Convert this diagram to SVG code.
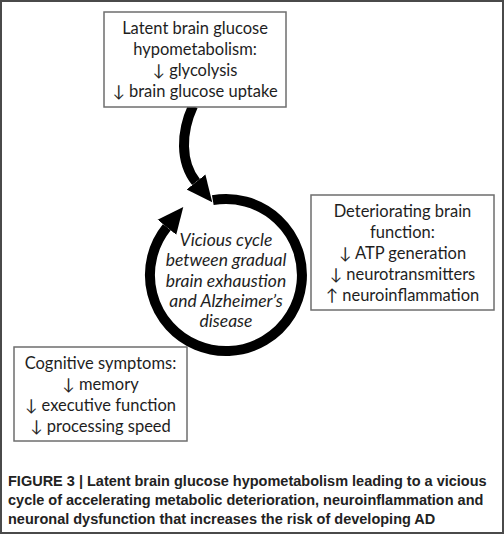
<svg xmlns="http://www.w3.org/2000/svg" width="504" height="535" viewBox="0 0 504 535">
<style>
.box{fill:#fff;stroke:#6e6e6e;stroke-width:1.5}
.t{font-family:Lato,"Liberation Sans",sans-serif;font-size:16.5px;fill:#1e1e1e;text-anchor:middle}
.c{font-family:Lato,"Liberation Sans",sans-serif;font-size:17.5px;font-style:italic;fill:#1e1e1e;text-anchor:middle}
.cap{font-family:"Liberation Sans",Arial,sans-serif;font-size:14.5px;font-weight:bold;fill:#222}
.conn{fill:none;stroke:#000;stroke-width:10}
</style>
<defs>
<marker id="ah" markerUnits="userSpaceOnUse" markerWidth="27" markerHeight="26" viewBox="0 -13 27 26" refX="0" refY="0" orient="auto">
<path d="M0,-12 L26,0 L0,12 Z" fill="#000"/>
</marker>
</defs>
<rect x="1" y="1" width="502" height="532" fill="#fff" stroke="#4a4a4a" stroke-width="2"/>
<g id="connectors">
<path class="conn" d="M193,106 C181,132 180,162 196,182" marker-end="url(#ah)"/>
<path class="conn" d="M212.8,200.2 A76,76 0 1 1 166.9,227.2" marker-end="url(#ah)"/>
</g>
<g id="top">
<rect class="box" x="104" y="12" width="182" height="95"/>
<text class="t" x="195" y="33.5">Latent brain glucose</text>
<text class="t" x="195" y="54.5">hypometabolism:</text>
<text class="t" x="195" y="75.5">↓ glycolysis</text>
<text class="t" x="195" y="96.5">↓ brain glucose uptake</text>
</g>
<g id="cycle">
<text class="c" x="226" y="245.5">Vicious cycle</text>
<text class="c" x="226" y="266">between gradual</text>
<text class="c" x="226" y="286.5">brain exhaustion</text>
<text class="c" x="226" y="307">and Alzheimer’s</text>
<text class="c" x="226" y="327">disease</text>
</g>
<g id="right">
<rect class="box" x="311" y="195" width="183" height="115"/>
<text class="t" x="402.5" y="217">Deteriorating brain</text>
<text class="t" x="402.5" y="238">function:</text>
<text class="t" x="402.5" y="259">↓ ATP generation</text>
<text class="t" x="402.5" y="280">↓ neurotransmitters</text>
<text class="t" x="402.5" y="301">↑ neuroinflammation</text>
</g>
<g id="bottom">
<rect class="box" x="14" y="347" width="173" height="94"/>
<text class="t" x="100.5" y="369">Cognitive symptoms:</text>
<text class="t" x="100.5" y="390">↓ memory</text>
<text class="t" x="100.5" y="411">↓ executive function</text>
<text class="t" x="100.5" y="432">↓ processing speed</text>
</g>
<g id="caption">
<text class="cap" x="8" y="485.5">FIGURE 3 | Latent brain glucose hypometabolism leading to a vicious</text>
<text class="cap" x="8" y="504.5">cycle of accelerating metabolic deterioration, neuroinflammation and</text>
<text class="cap" x="8" y="523.5">neuronal dysfunction that increases the risk of developing AD</text>
</g>
</svg>
